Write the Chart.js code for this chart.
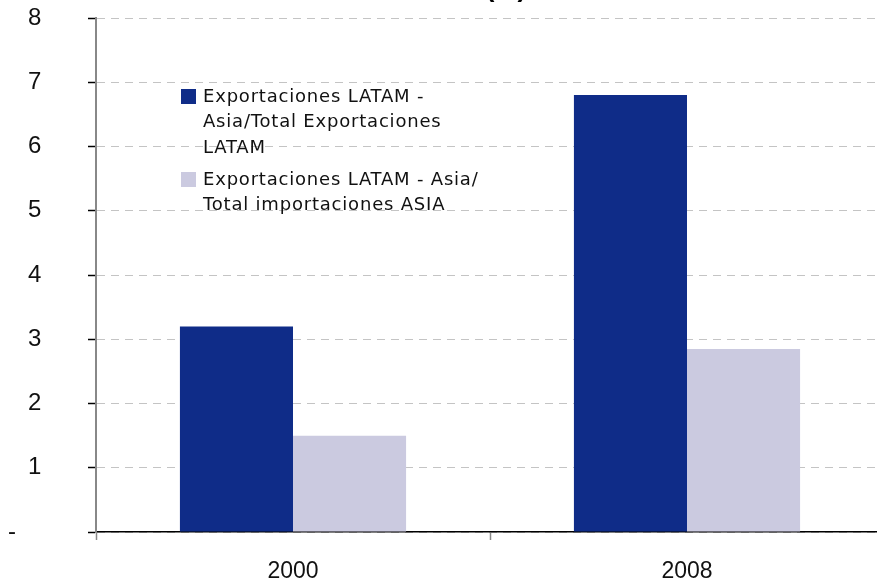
<!DOCTYPE html>
<html>
<head>
<meta charset="utf-8">
<script src="https://cdn.jsdelivr.net/npm/chart.js@4/dist/chart.umd.min.js"></script>
<style>
  html, body { margin: 0; padding: 0; background: #fff; overflow: hidden; }
  /* plot runs a few pixels past the right edge in the original, so the canvas is cropped */
  #wrap { width: 877px; height: 585px; overflow: hidden; }
</style>
</head>
<body>
<div id="wrap"><canvas id="chart" width="884" height="585"></canvas></div>
<script>
const years = ["2000", "2008"];
const seriesNames = [
  ["Exportaciones LATAM -", "Asia/Total Exportaciones", "LATAM"],
  ["Exportaciones LATAM - Asia/", "Total importaciones ASIA"]
];
const shareOfLatamExports = [3.2, 6.8];
const shareOfAsiaImports = [1.5, 2.85];
const yTicks = [0, 1, 2, 3, 4, 5, 6, 7, 8];
const titleText = "(%)";

const darkBlue = "#0F2C88";
const lightLilac = "#CBCAE0";

// legend drawn by hand because the labels wrap over several lines
const legendPlugin = {
  id: "wrappedLegend",
  afterDraw(chart) {
    const ctx = chart.ctx;
    ctx.save();
    ctx.font = "18px 'DejaVu Sans'";
    ctx.letterSpacing = "0.8px";
    ctx.textBaseline = "middle";
    let y = 97;
    chart.data.datasets.forEach((ds, i) => {
      ctx.fillStyle = ds.backgroundColor;
      ctx.fillRect(181, y - 8, 15, 15);
      ctx.fillStyle = "#111";
      seriesNames[i].forEach((line, j) => {
        ctx.fillText(line, 203, y + j * 25.5);
      });
      y += (seriesNames[i].length - 1) * 25.5 + 32;
    });
    ctx.restore();
  }
};

// title sits above the top edge, only the bottom of it shows
const titlePlugin = {
  id: "cutTitle",
  afterDraw(chart) {
    const ctx = chart.ctx;
    ctx.save();
    ctx.font = "bold 26px 'Liberation Sans'";
    ctx.fillStyle = "#000";
    ctx.textAlign = "center";
    ctx.textBaseline = "alphabetic";
    ctx.fillText(titleText, 506, -3);
    ctx.restore();
  }
};

new Chart(document.getElementById("chart"), {
  type: "bar",
  data: {
    labels: years,
    datasets: [
      {
        label: seriesNames[0].join(" "),
        data: shareOfLatamExports,
        backgroundColor: darkBlue
      },
      {
        label: seriesNames[1].join(" "),
        data: shareOfAsiaImports,
        backgroundColor: lightLilac
      }
    ]
  },
  options: {
    responsive: false,
    animation: false,
    layout: { padding: { top: 18, right: 0, left: 8, bottom: 0 } },
    datasets: {
      bar: { barPercentage: 1, categoryPercentage: 0.574 }
    },
    plugins: {
      legend: { display: false },
      tooltip: { enabled: false }
    },
    scales: {
      x: {
        grid: {
          offset: true,
          drawOnChartArea: false,
          tickLength: 8,
          tickColor: "#888",
          tickWidth: 1.5
        },
        border: { color: "#000", width: 1.5 },
        ticks: {
          color: "#111",
          font: { family: "'Liberation Sans'", size: 23 },
          padding: 18
        },
        afterFit(scale) { scale.height = 53; }
      },
      y: {
        min: 0,
        max: 8,
        afterBuildTicks(scale) {
          scale.ticks = yTicks.map(v => ({ value: v }));
        },
        grid: {
          color: "#c4c4c4",
          lineWidth: 1,
          tickLength: 8,
          tickColor: "#000",
          tickWidth: 1.5,
          tickBorderDash: []
        },
        border: { color: "#888", width: 2, dash: [8, 6] },
        ticks: {
          color: "#111",
          font: { family: "'Liberation Sans'", size: 24 },
          padding: 2,
          crossAlign: "far",
          callback(value) {
            return value === 0 ? "-" : "   " + value;
          }
        },
        afterFit(scale) { scale.width = 88; }
      }
    }
  },
  plugins: [legendPlugin, titlePlugin]
});
</script>
</body>
</html>
